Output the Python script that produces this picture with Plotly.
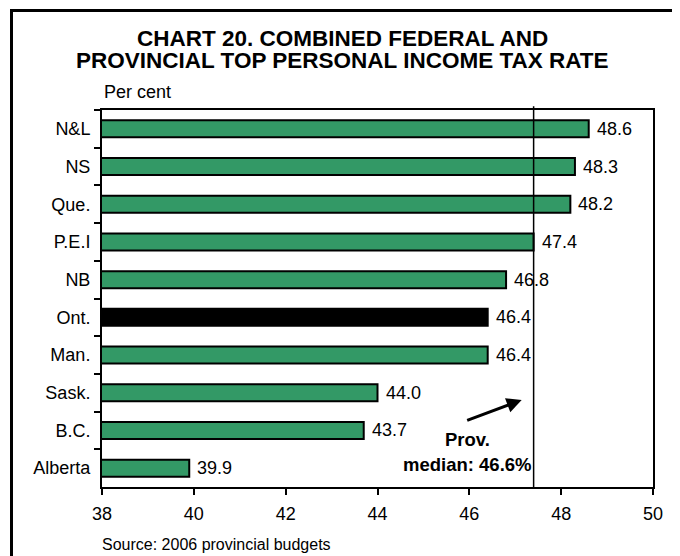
import plotly.graph_objects as go

provinces = ["N&L", "NS", "Que.", "P.E.I", "NB", "Ont.", "Man.", "Sask.", "B.C.", "Alberta"]
rates = [48.6, 48.3, 48.2, 47.4, 46.8, 46.4, 46.4, 44.0, 43.7, 39.9]
highlight = "Ont."
median_line = 47.4
median_label = "46.6%"
x_ticks = [38, 40, 42, 44, 46, 48, 50]

GREEN = "#339966"
FONT = "Liberation Sans, Arial, sans-serif"

colors = ["#000000" if p == highlight else GREEN for p in provinces]

# page body has an 8px margin, so the figure is sized to fill the rest
OFF = 8
W, H = 680 - OFF, 556 - OFF
L, R, T, B = 102 - OFF, 680 - 653, 110 - OFF, 556 - 487
pw, ph = W - L - R, H - T - B


def px(xp):
    return (xp - OFF - L) / pw


def py(yp):
    return (H - B - (yp - OFF)) / ph


fig = go.Figure()
fig.add_trace(go.Bar(
    x=rates, y=provinces, orientation="h",
    marker=dict(color=colors, line=dict(color="#000000", width=2)),
    showlegend=False, hoverinfo="x+y",
))

for p, v in zip(provinces, rates):
    fig.add_annotation(x=v, y=p, xref="x", yref="y", text=f"{v:.1f}",
                       showarrow=False, xanchor="left", xshift=6,
                       font=dict(family=FONT, size=18, color="#000000"))

# median line
fig.add_shape(type="line", xref="x", yref="paper", x0=median_line, x1=median_line,
              y0=0, y1=1.01, line=dict(color="#000000", width=1.5))

# arrow
fig.add_annotation(x=47.14, y=py(400), xref="x", yref="paper", text="",
                   showarrow=True, arrowhead=2, arrowsize=1, arrowwidth=3,
                   arrowcolor="#000000", ax=-56, ay=21)
fig.add_annotation(x=45.95, y=py(439), xref="x", yref="paper", text="<b>Prov.</b>",
                   showarrow=False, xanchor="center", yanchor="middle",
                   font=dict(family=FONT, size=18.5, color="#000000"))
fig.add_annotation(x=45.95, y=py(464), xref="x", yref="paper",
                   text=f"<b>median: {median_label}</b>",
                   showarrow=False, xanchor="center", yanchor="middle",
                   font=dict(family=FONT, size=18.5, color="#000000"))

fig.add_annotation(x=px(342), y=py(38), xref="paper", yref="paper",
                   text="<b>CHART 20. COMBINED FEDERAL AND</b>", showarrow=False,
                   xanchor="center", yanchor="middle",
                   font=dict(family=FONT, size=22.5, color="#000000"))
fig.add_annotation(x=px(342), y=py(61), xref="paper", yref="paper",
                   text="<b>PROVINCIAL TOP PERSONAL INCOME TAX RATE</b>", showarrow=False,
                   xanchor="center", yanchor="middle",
                   font=dict(family=FONT, size=22.5, color="#000000"))
fig.add_annotation(x=px(102), y=py(92), xref="paper", yref="paper",
                   text="Per cent", showarrow=False, xanchor="left", yanchor="middle",
                   font=dict(family=FONT, size=18, color="#000000"))
fig.add_annotation(x=px(100), y=py(544), xref="paper", yref="paper",
                   text="Source: 2006 provincial budgets", showarrow=False,
                   xanchor="left", yanchor="middle",
                   font=dict(family=FONT, size=16, color="#000000"))

# outer frame
fig.add_shape(type="rect", xref="paper", yref="paper",
              x0=px(11.5), x1=px(673.5), y0=py(600), y1=py(10.5),
              line=dict(color="#000000", width=3), fillcolor="rgba(0,0,0,0)")

fig.update_layout(
    width=W, height=H,
    margin=dict(l=L, r=R, t=T, b=B, autoexpand=False),
    paper_bgcolor="#ffffff", plot_bgcolor="#ffffff",
    bargap=0.55,
    font=dict(family=FONT, size=18, color="#000000"),
    xaxis=dict(range=[38, 50], tickvals=x_ticks, ticktext=[str(t) for t in x_ticks],
               showgrid=False, zeroline=False, showline=True, linecolor="#000000",
               linewidth=2, mirror=True, ticks="outside", ticklen=6, tickwidth=2,
               tickcolor="#000000", tickfont=dict(size=18), ticklabelstandoff=3),
    yaxis=dict(categoryorder="array", categoryarray=provinces, autorange="reversed",
               showgrid=False, zeroline=False, showline=True, linecolor="#000000",
               linewidth=2, mirror=True, ticks="outside", ticklen=6, tickwidth=2,
               tickcolor="#000000", tickson="boundaries", tickfont=dict(size=18),
               ticklabelstandoff=6),
)

fig.write_html("out.html")
